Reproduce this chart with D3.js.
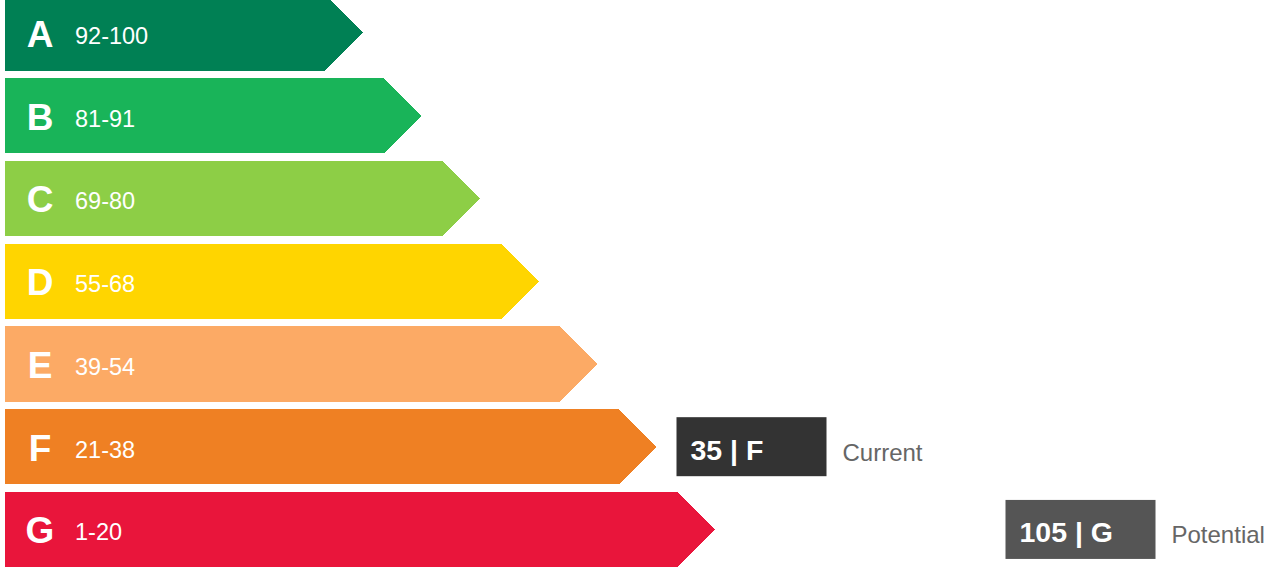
<!DOCTYPE html>
<html>
<head>
<meta charset="utf-8">
<script src="https://cdn.jsdelivr.net/npm/d3@7"></script>
<style>
  body { margin: 0; background: #fff; }
  svg { display: block; font-family: 'Liberation Sans', Arial, sans-serif; }
</style>
</head>
<body>
<div id="epc"></div>
<script>
// rating bands, top to bottom
const bands = ['A', 'B', 'C', 'D', 'E', 'F', 'G'];
const ranges = ['92-100', '81-91', '69-80', '55-68', '39-54', '21-38', '1-20'];
const colors = ['#008054', '#19b459', '#8dce46', '#ffd500', '#fcaa65', '#ef8023', '#e9153b'];

// the two markers
const markerLabels = ['Current', 'Potential'];
const markerScores = [35, 105];
const markerBands = ['F', 'G'];
const markerColors = ['#333333', '#555555'];

let width = 1264,
    height = 567;

let svg = d3.select('#epc')
            .append('svg')
            .attr('width', width)
            .attr('height', height);

// vertical position of each band
let yScale = d3.scaleBand()
            .domain(bands)
            .range([-4.6, height])
            .paddingInner(0.092);

// where the arrow tip of each band ends
let tipScale = d3.scaleLinear()
            .domain([0, bands.length - 1])
            .range([363, 715]);

// score -> x of the marker box
let scoreScale = d3.scaleLinear()
            .domain([0, 100])
            .range([512, 982]);

let h = yScale.bandwidth();
let left = 5;

// arrow shaped bar
function arrow(i) {
    let y0 = yScale(bands[i]);
    let tip = tipScale(i);
    let body = tip - h / 2;
    return `M${left},${y0} L${body},${y0} L${tip},${y0 + h / 2} L${body},${y0 + h} L${left},${y0 + h} Z`;
}

let row = svg.selectAll('g.band')
            .data(bands)
            .enter()
            .append('g')
            .attr('class', 'band');

row.append('path')
    .attr('d', (d, i) => arrow(i))
    .attr('fill', (d, i) => colors[i])
    .attr('shape-rendering', 'crispEdges');

// band letter
row.append('text')
    .attr('x', 40)
    .attr('y', d => yScale(d) + h / 2 + 14)
    .attr('text-anchor', 'middle')
    .attr('fill', 'white')
    .style('font-size', '37px')
    .style('font-weight', 'bold')
    .text(d => d);

// score range
row.append('text')
    .attr('x', 75)
    .attr('y', d => yScale(d) + h / 2 + 11)
    .attr('fill', 'white')
    .style('font-size', '23.5px')
    .text((d, i) => ranges[i]);

// markers for current / potential
let marker = svg.selectAll('g.marker')
            .data(markerLabels)
            .enter()
            .append('g')
            .attr('class', 'marker')
            .attr('transform', (d, i) => `translate(${scoreScale(markerScores[i])}, ${yScale(markerBands[i]) + h / 2})`);

marker.append('rect')
    .attr('x', 0)
    .attr('y', -29.5)
    .attr('width', 150)
    .attr('height', 59)
    .attr('fill', (d, i) => markerColors[i]);

marker.append('text')
    .attr('x', 14)
    .attr('y', 13)
    .attr('fill', 'white')
    .style('font-size', '28.5px')
    .style('font-weight', 'bold')
    .text((d, i) => `${markerScores[i]} | ${markerBands[i]}`);

marker.append('text')
    .attr('x', 166)
    .attr('y', 14)
    .attr('fill', '#666')
    .style('font-size', '24px')
    .text(d => d);
</script>
</body>
</html>
